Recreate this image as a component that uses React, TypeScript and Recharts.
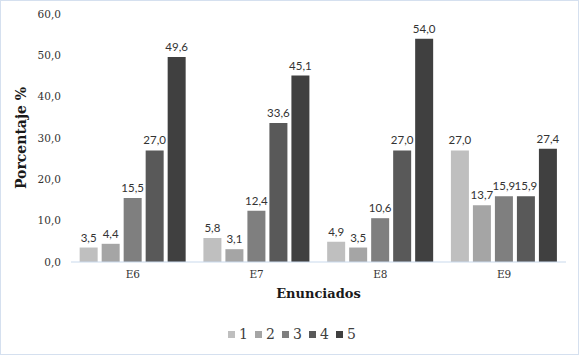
import React from "react";
import { BarChart, Bar, XAxis, YAxis, Legend, LabelList } from "recharts";

const categories = ["E6", "E7", "E8", "E9"];
const series1 = [3.5, 5.8, 4.9, 27.0];
const series2 = [4.4, 3.1, 3.5, 13.7];
const series3 = [15.5, 12.4, 10.6, 15.9];
const series4 = [27.0, 33.6, 27.0, 15.9];
const series5 = [49.6, 45.1, 54.0, 27.4];
const seriesNames = ["1", "2", "3", "4", "5"];
const yTicks = [0, 10, 20, 30, 40, 50, 60];

const colors = ["#bfbfbf", "#a5a5a5", "#7f7f7f", "#595959", "#404040"];
const allSeries = [series1, series2, series3, series4, series5];

const data = categories.map((c, i) => {
  const row: any = { name: c };
  seriesNames.forEach((s, j) => {
    row["s" + s] = allSeries[j][i];
  });
  return row;
});

const fmt = (v: any) => Number(v).toFixed(1).replace(".", ",");

const LegendContent = () => (
  <div
    style={{
      height: 30,
      display: "flex",
      justifyContent: "center",
      alignItems: "center",
      paddingLeft: 12,
      boxSizing: "border-box",
    }}
  >
    {seriesNames.map((s, i) => (
      <div key={s} style={{ width: 27, display: "flex", alignItems: "center" }}>
        <span style={{ width: 7, height: 7, background: colors[i], display: "inline-block", marginRight: 4 }} />
        <span style={{ fontFamily: "DejaVu Serif", fontSize: 14, color: "#404040", lineHeight: "14px" }}>{s}</span>
      </div>
    ))}
  </div>
);

export default function App() {
  return (
    <div style={{ position: "absolute", left: 0, top: 0, width: 579, height: 355, background: "#fff" }}>
      <BarChart
        width={579}
        height={355}
        data={data}
        margin={{ top: 14, right: 13, left: 0, bottom: 6 }}
        barCategoryGap="7%"
        barGap={4}
      >
        <XAxis
          dataKey="name"
          height={57}
          axisLine={{ stroke: "#c9d9ec" }}
          tickLine={false}
          tickMargin={3}
          tick={{ fontFamily: "DejaVu Serif", fontSize: 10.5, fill: "#333" }}
          label={{
            value: "Enunciados",
            position: "insideTop",
            offset: 27,
            style: { fontFamily: "DejaVu Serif", fontSize: 13, fontWeight: "bold", fill: "#1a1a1a" },
          }}
        />
        <YAxis
          width={71}
          domain={[0, 60]}
          ticks={yTicks}
          interval={0}
          axisLine={false}
          tickLine={false}
          tickMargin={4}
          tickFormatter={fmt}
          tick={{ fontFamily: "DejaVu Serif", fontSize: 10.5, fill: "#333" }}
          label={{
            value: "Porcentaje %",
            angle: -90,
            position: "insideLeft",
            offset: 21,
            style: { textAnchor: "middle", fontFamily: "DejaVu Serif", fontSize: 14, fontWeight: "bold", fill: "#1a1a1a" },
          }}
        />
        <Legend verticalAlign="bottom" wrapperStyle={{ left: 0, width: 579 }} content={<LegendContent />} />
        {seriesNames.map((s, i) => (
          <Bar key={s} dataKey={"s" + s} name={s} fill={colors[i]} isAnimationActive={false}>
            <LabelList
              dataKey={"s" + s}
              position="top"
              offset={6}
              formatter={fmt}
              style={{ fontFamily: "Lato", fontSize: 11.5, fill: "#333" }}
            />
          </Bar>
        ))}
      </BarChart>
      <div
        style={{
          position: "absolute",
          left: 0,
          top: 0,
          width: 579,
          height: 355,
          border: "1px solid #d5e0ef",
          boxSizing: "border-box",
          pointerEvents: "none",
        }}
      />
    </div>
  );
}
